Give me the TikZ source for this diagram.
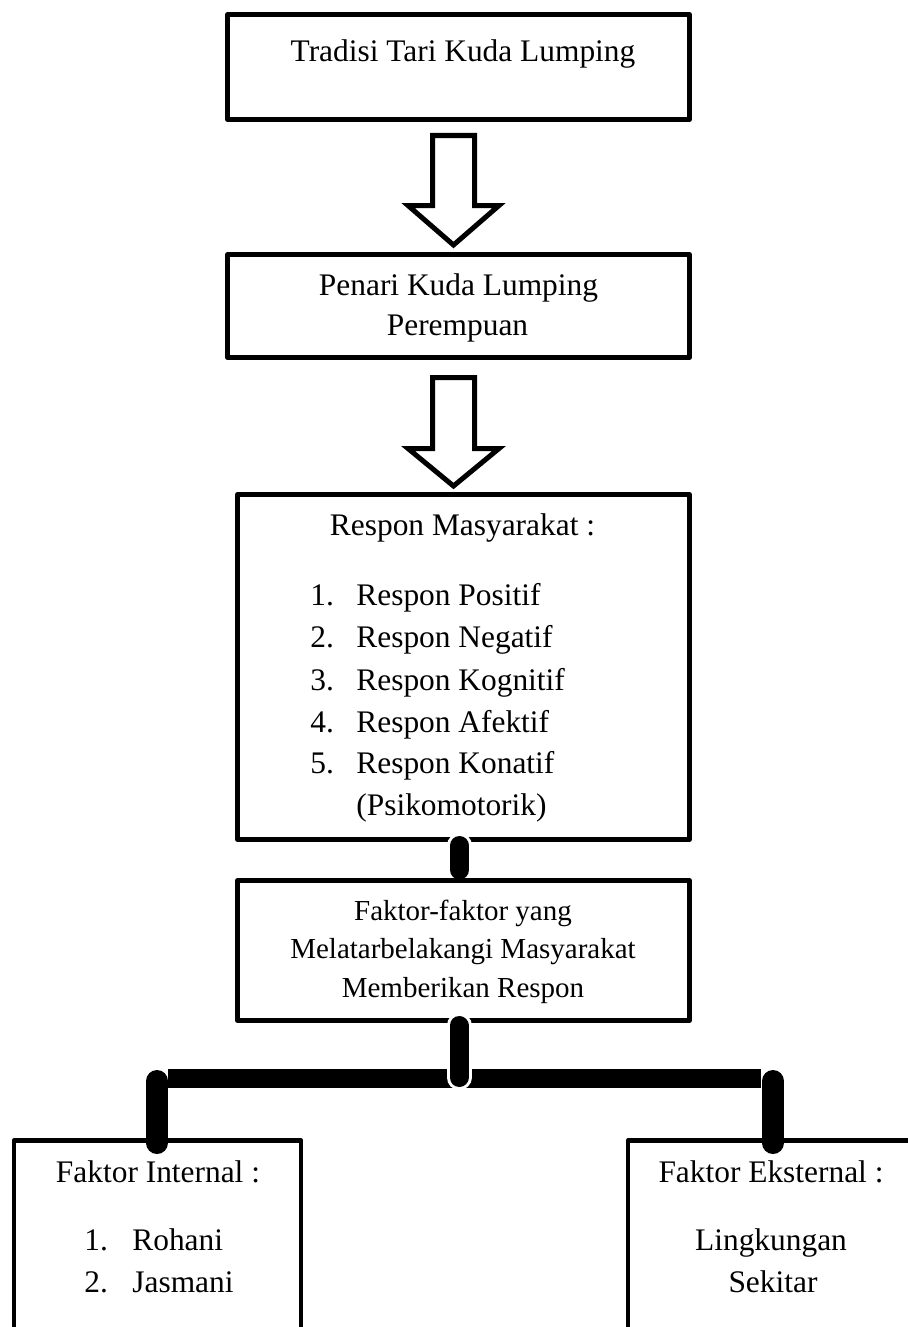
\documentclass[tikz,border=0pt]{standalone}
\usepackage{fontspec}
\setmainfont{Liberation Serif}
\usetikzlibrary{calc}
\begin{document}
\begin{tikzpicture}[x=0.5pt,y=-0.5pt,
  box/.style={draw, line width=2.25pt, line join=round, inner sep=0pt, outer sep=0pt},
  txt/.style={anchor=base, inner sep=0pt, font=\fontsize{15.7}{19}\selectfont},
  lft/.style={txt, anchor=base west},
  txts/.style={anchor=base, inner sep=0pt, font=\fontsize{14.5}{18}\selectfont},
  blockarrow/.style={draw, line width=2.5pt, line join=miter, fill=white},
  halo/.style={draw=white, line width=12.5pt, line cap=round},
  vconn/.style={draw=black, line width=9.5pt, line cap=round},
  hbar/.style={draw=black, line width=9.5pt, line cap=butt}]
\useasboundingbox (0,0) rectangle (908,1327);
\clip (0,0) rectangle (908,1327);

% boxes
\node[box, minimum width=231pt, minimum height=52.5pt] (b1) at (458.5,67) {};
\node[box, minimum width=231pt, minimum height=51.5pt] (b2) at (458.5,306) {};
\node[box, minimum width=226pt, minimum height=172.5pt] (b3) at (463.5,667) {};
\node[box, minimum width=226pt, minimum height=70pt] (b4) at (463.5,950.5) {};
\node[box, minimum width=143.5pt, minimum height=129.75pt] (b5) at (157.5,1270.25) {};
\node[box, minimum width=161pt, minimum height=129.75pt] (b6) at (789,1270.25) {};

% texts
\node[txt] (t1) at (463,62) {Tradisi Tari Kuda Lumping};
\node[txt] (t2a) at (458.5,295) {Penari Kuda Lumping};
\node[txt] (t2b) at (457.5,335) {Perempuan};
\node[txt] (t3) at (462.5,535) {Respon Masyarakat :};
\node[lft] (n1) at (310,605) {1.};
\node[lft] (r1) at (356,605) {Respon Positif};
\node[lft] (n2) at (310,647) {2.};
\node[lft] (r2) at (356,647) {Respon Negatif};
\node[lft] (n3) at (310,690) {3.};
\node[lft] (r3) at (356,690) {Respon Kognitif};
\node[lft] (n4) at (310,732) {4.};
\node[lft] (r4) at (356,732) {Respon Afektif};
\node[lft] (n5) at (310,773) {5.};
\node[lft] (r5) at (356,773) {Respon Konatif};
\node[lft] (r5b) at (356,815) {(Psikomotorik)};
\node[txts] (t4a) at (463,920) {Faktor-faktor yang};
\node[txts] (t4b) at (463,958) {Melatarbelakangi Masyarakat};
\node[txts] (t4c) at (463,997) {Memberikan Respon};
\node[txt] (t5) at (158,1182) {Faktor Internal :};
\node[lft] (m1) at (84,1250) {1.};
\node[lft] (s1) at (132,1250) {Rohani};
\node[lft] (m2) at (84,1292) {2.};
\node[lft] (s2) at (132,1292) {Jasmani};
\node[txt] (t6) at (771,1182) {Faktor Eksternal :};
\node[txt] (t6a) at (771,1250) {Lingkungan};
\node[txt] (t6b) at (773,1292) {Sekitar};

% block arrows
\draw[blockarrow] ($(b1.south)+(-26,16)$) -- ++(42,0) -- ++(0,70) -- ++(24.5,0)
  -- ++(-45.5,39.5) -- ++(-45.5,-39.5) -- ++(24.5,0) -- cycle;
\draw[blockarrow] ($(b2.south)+(-26,20)$) -- ++(42,0) -- ++(0,71) -- ++(24.5,0)
  -- ++(-45.5,37.5) -- ++(-45.5,-37.5) -- ++(24.5,0) -- cycle;

% thick connectors
\path[halo] ($(b3.south)+(-4,6)$) -- ($(b3.south)+(-4,16)$);
\path[vconn] ($(b3.south)+(-4,6)$) -- ($(b4.north)+(-4,-10.5)$);

\coordinate (jl) at (157,1078.5);
\coordinate (jm) at (459,1078.5);
\coordinate (jr) at (773,1078.5);
\path[hbar] ($(jl)+(11,0)$) -- ($(jr)+(-12,0)$);
\path[halo] ($(b4.south)+(-4.5,5)$) -- ($(jm)+(0,-1)$);
\path[vconn] ($(b4.south)+(-4.5,5)$) -- ($(jm)+(0,-1)$);
\path[vconn, line width=11pt] ($(jl)+(0,2.5)$) -- ($(jl|-b5.north)+(0,2.5)$);
\path[vconn, line width=11pt] ($(jr)+(0,2.5)$) -- ($(jr|-b6.north)+(0,2.5)$);
\end{tikzpicture}
\end{document}
